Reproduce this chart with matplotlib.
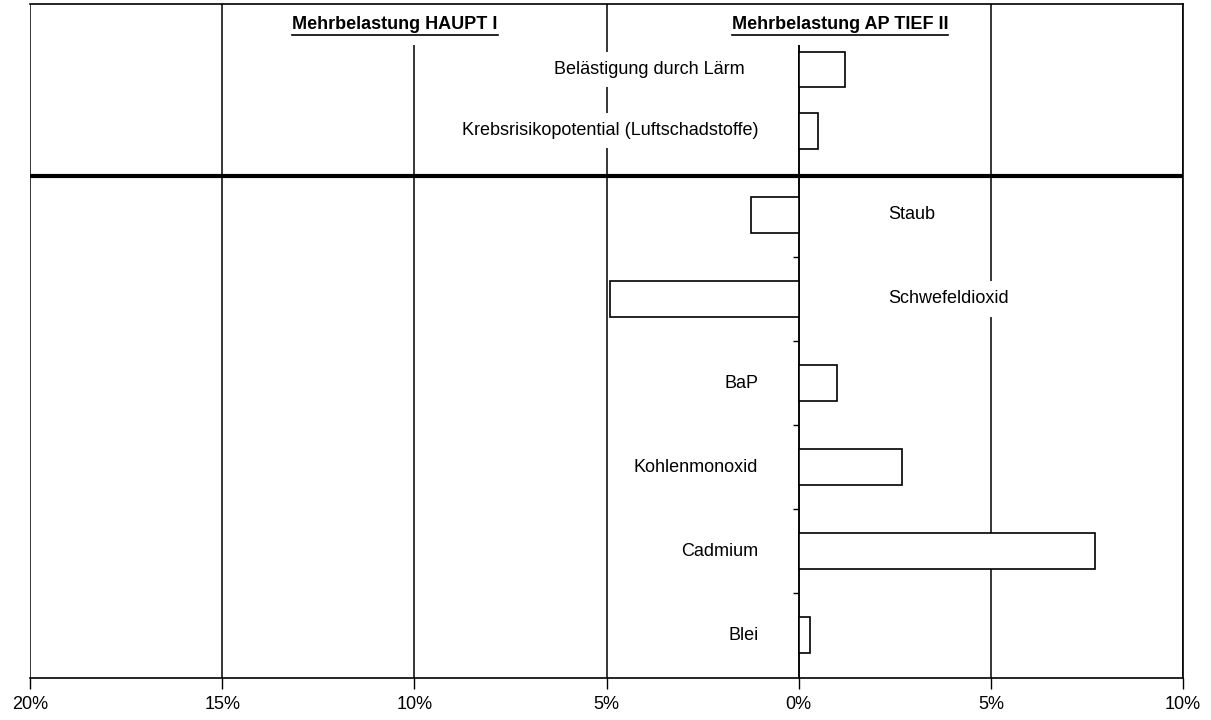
import numpy as np
import matplotlib.pyplot as plt
from matplotlib.lines import Line2D

plt.rcParams['font.family'] = ['Liberation Sans', 'DejaVu Sans']

# data (Mehrbelastung in %, negative = HAUPT I, positive = AP TIEF II)
top_labels = ['Belästigung durch Lärm', 'Krebsrisikopotential (Luftschadstoffe)']
top_values = [1.2, 0.5]
top_pos = [6.73, 6.0]

low_labels = ['Staub', 'Schwefeldioxid', 'BaP', 'Kohlenmonoxid', 'Cadmium', 'Blei']
low_values = [-1.25, -4.9, 1.0, 2.7, 7.7, 0.3]
low_pos = [5, 4, 3, 2, 1, 0]

xticks = [-20, -15, -10, -5, 0, 5, 10]
xticklabels = ['20%', '15%', '10%', '5%', '0%', '5%', '10%']

fig = plt.figure(figsize=(12.11, 7.2), dpi=100)
ax = fig.add_axes([30 / 1211, 42 / 720, 1153 / 1211, 674 / 720])

ax.barh(top_pos + low_pos, top_values + low_values, height=0.42,
        facecolor='white', edgecolor='black', linewidth=1.2, zorder=3)

ax.set_xlim(-20, 10)
ax.set_ylim(-0.51, 7.51)
ax.set_xticks(xticks)
ax.set_xticklabels(xticklabels, fontsize=13)
ax.tick_params(axis='x', length=8, width=1, direction='out', pad=5)
ax.set_axisbelow(True)
ax.xaxis.grid(True, color='black', linewidth=1.1)

# zero line carries the category separator ticks
ax.spines['left'].set_position(('data', 0))
ax.spines['left'].set_linewidth(1.1)
ax.set_yticks([0.5, 1.5, 2.5, 3.5, 4.5])
ax.set_yticklabels([])
ax.tick_params(axis='y', length=4, width=1, direction='out')
for s in ['top', 'right', 'bottom']:
    ax.spines[s].set_linewidth(1.2)
    ax.spines[s].set_zorder(6)

# separator between the two blocks
ax.axhline(5.46, color='black', linewidth=3, zorder=2)

box = dict(boxstyle='square,pad=0.5', facecolor='white', edgecolor='none')
tbox = dict(boxstyle='square,pad=0.7', facecolor='white', edgecolor='none')

ax.text(-1.4, top_pos[0], top_labels[0], ha='right', va='center', fontsize=13, bbox=box, zorder=4)
ax.text(-1.05, top_pos[1], top_labels[1], ha='right', va='center', fontsize=13, bbox=box, zorder=4)

for lab, v, y in zip(low_labels, low_values, low_pos):
    if v < 0:
        ax.text(2.32, y, lab, ha='left', va='center', fontsize=13, bbox=box, zorder=4)
    else:
        ax.text(-1.05, y, lab, ha='right', va='center', fontsize=13, bbox=box, zorder=4)

titles = []
titles.append(ax.text(-10.5, 7.27, 'Mehrbelastung HAUPT I', ha='center', va='center',
                      fontsize=13, fontweight='bold', bbox=tbox, zorder=4))
titles.append(ax.text(1.07, 7.27, 'Mehrbelastung AP TIEF II', ha='center', va='center',
                      fontsize=13, fontweight='bold', bbox=tbox, zorder=4))

# underline the titles
fig.canvas.draw()
r = fig.canvas.get_renderer()
for t in titles:
    t.set_bbox(None)
    bb = t.get_window_extent(r)
    t.set_bbox(tbox)
    y = (bb.y0 - 2) / fig.bbox.height
    fig.add_artist(Line2D([bb.x0 / fig.bbox.width, bb.x1 / fig.bbox.width], [y, y],
                          color='black', linewidth=1.2, zorder=5))

fig.savefig('out.png', dpi=100, facecolor='white')
